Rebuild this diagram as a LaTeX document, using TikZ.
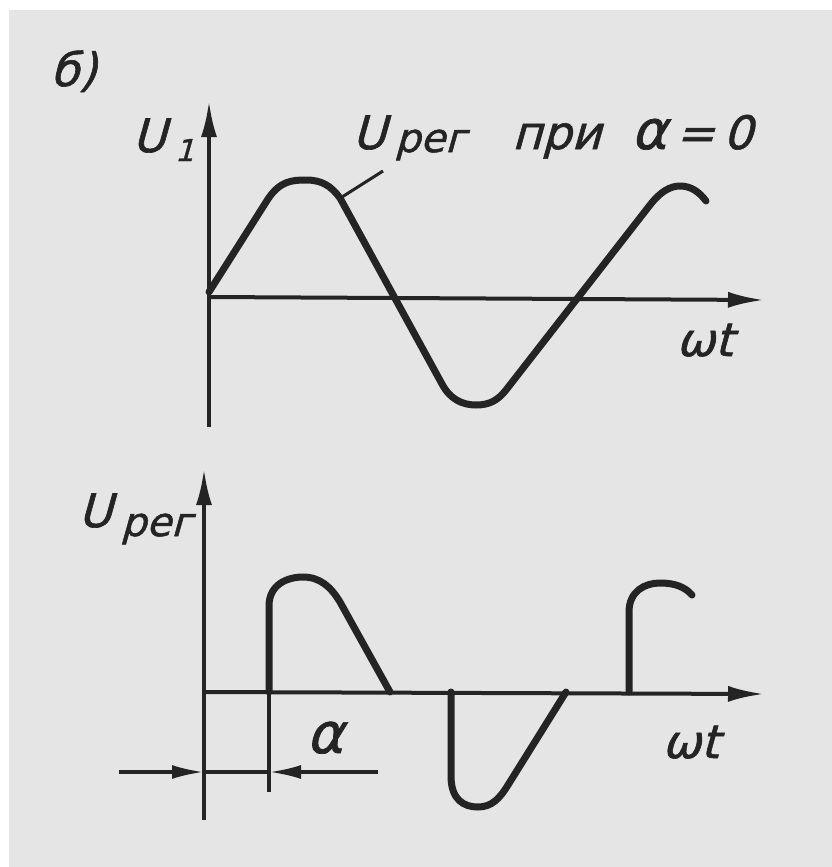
\documentclass[tikz,border=0pt]{standalone}
\usepackage{fontspec}
\setmainfont{DejaVu Sans}
\newfontfamily\gostfont{DejaVu Sans}[FakeSlant=0.28,FakeBold=1.3]
\usetikzlibrary{arrows.meta}
\definecolor{bgc}{RGB}{229,229,229}
\definecolor{ink}{RGB}{36,36,36}
\newcommand\labfont{\gostfont\fontsize{46}{50}\selectfont}
\begin{document}
\begin{tikzpicture}[x=1pt,y=-1pt,
  axis/.style={draw=ink,line width=4pt,-{Latex[length=36pt,width=16pt]}},
  thinline/.style={draw=ink,line width=3.5pt},
  curve/.style={draw=ink,line width=7pt,line cap=round,line join=round},
  lab/.style={inner sep=0pt,text=ink,font=\labfont,anchor=base west},
  dimarrow/.style={draw=ink,line width=3.5pt,-{Latex[length=32pt,width=14pt]}}]
\useasboundingbox (0,0) rectangle (832,867);
\fill[white] (0,0) rectangle (832,867);
\fill[bgc] (9,10) rectangle (832,867);

% ---------- top graph ----------
\coordinate (Y1b) at (209,427);
\coordinate (Y1t) at (209,101);
\coordinate (X1s) at (209,297);
\coordinate (X1e) at (764,300);
\draw[axis] (Y1b) -- (Y1t);
\draw[axis] (X1s) -- (X1e);

\draw[curve] (209,292) -- (268,199)
  .. controls (280,181) and (292,180) .. (306,180)
  .. controls (322,180) and (331,186) .. (340,198)
  -- (442,384)
  .. controls (450,399) and (462,405) .. (476,405)
  .. controls (490,405) and (498,400) .. (506,390)
  -- (650,205)
  .. controls (660,192) and (670,186) .. (680,186)
  .. controls (692,186) and (700,193) .. (706,201);

\coordinate (P1) at (383,171);
\coordinate (P2) at (342,197);
\draw[thinline,line width=3pt] (P1) -- (P2);

\node[lab] (lblB) at (50,86) {б)};
\node[lab] (lblU1) at (132,152) {U\hspace{9pt}\raisebox{-9pt}{\fontsize{30}{30}\selectfont 1}};
\node[lab] (lblTop) at (352,149) {U\hspace{9pt}\raisebox{-3pt}{\fontsize{40}{40}\selectfont рег}\hspace{46pt}при\hspace{30pt}{\fontsize{54}{54}\selectfont α}\hspace{9pt}=\hspace{9pt}0};
\node[lab] (lblWt1) at (676,356) {ωt};

% ---------- bottom graph ----------
\coordinate (Y2b) at (204,820);
\coordinate (Y2t) at (204,469);
\coordinate (X2s) at (204,692);
\coordinate (X2e) at (764,694);
\draw[axis] (Y2b) -- (Y2t);
\draw[axis] (X2s) -- (X2e);

% extension line at firing angle
\coordinate (Ab) at (269,792);
\coordinate (Aa) at (269,692);
\draw[thinline] (Ab) -- (Aa);

% pulses
\draw[curve] (Aa) -- (269,606)
  .. controls (269,584) and (288,577) .. (303,577)
  .. controls (320,577) and (331,587) .. (340,602)
  -- (390,692);
\draw[curve] (451,692) -- (451,776)
  .. controls (451,800) and (464,807) .. (478,807)
  .. controls (492,807) and (500,798) .. (508,785)
  -- (566,692);
\draw[curve] (629,692) -- (629,612)
  .. controls (629,591) and (645,583) .. (660,583)
  .. controls (675,583) and (685,587) .. (692,595);

% dimension alpha
\coordinate (D1) at (119,772);
\coordinate (D2) at (204,772);
\coordinate (D3) at (378,772);
\coordinate (D4) at (269,772);
\draw[thinline] (D2) -- (D4);
\draw[dimarrow] (D1) -- (D2);
\draw[dimarrow] (D3) -- (D4);

\node[lab] (lblUreg) at (78,527) {U\hspace{9pt}\raisebox{-9pt}{\fontsize{40}{40}\selectfont рег}};
\node[lab,font=\gostfont\fontsize{56}{56}\selectfont] (lblAlpha) at (306,753) {α};
\node[lab] (lblWt2) at (662,758) {ωt};
\end{tikzpicture}
\end{document}
